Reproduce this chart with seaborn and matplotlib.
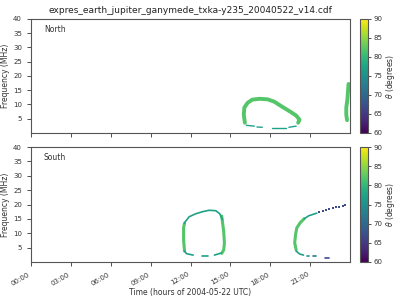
import numpy as np
import pandas as pd
import matplotlib
matplotlib.use("Agg")
import matplotlib.pyplot as plt
import seaborn as sns
from matplotlib.colors import Normalize
from matplotlib.cm import ScalarMappable

# ---------------- data ----------------
title = "expres_earth_jupiter_ganymede_txka-y235_20040522_v14.cdf"
tick_hours = [0, 3, 6, 9, 12, 15, 18, 21]
tick_labels = ["00:00", "03:00", "06:00", "09:00", "12:00", "15:00", "18:00", "21:00"]
cbar_ticks = [60, 65, 70, 75, 80, 85, 90]

# North hemisphere: thick bands (time h, freq MHz, theta deg, segment id)
north_thick_t = [16.09, 16.01, 16.05, 16.3, 16.65, 17.2, 17.8, 18.3, 18.9, 19.5, 19.95, 20.2, 20.1,
                 23.89, 23.8, 23.72, 23.72, 23.78]
north_thick_f = [3.6, 6.4, 8.9, 10.6, 11.7, 12.0, 11.8, 11.0, 9.2, 7.5, 6.1, 4.7, 3.6,
                 17.2, 11.6, 8.9, 6.4, 4.5]
north_thick_theta = [82] * 13 + [82] * 5
north_thick_seg = ["n1"] * 13 + ["n2"] * 5

# North thin dashes
north_thin_t = [16.2, 16.8, 17.0, 17.4, 18.1, 19.2, 19.4, 19.95]
north_thin_f = [2.7, 2.4, 2.1, 2.0, 1.8, 1.8, 2.0, 2.4]
north_thin_theta = [77] * 8
north_thin_seg = ["a", "a", "b", "b", "c", "c", "d", "d"]

# South hemisphere: thick bands
south_thick_t = [11.55, 11.48, 11.48, 11.55,
                 14.35, 14.5, 14.55, 14.5, 14.35,
                 19.95, 19.84, 19.9, 20.0, 20.25, 20.55]
south_thick_f = [3.8, 7.7, 11.9, 13.5,
                 16.0, 10.5, 6.65, 4.2, 3.0,
                 4.2, 6.65, 9.45, 11.9, 13.65, 15.05]
south_thick_theta = [82] * 4 + [82] * 5 + [82] * 6
south_thick_seg = ["s1"] * 4 + ["s2"] * 5 + ["s3"] * 6

# South thin lines / dashes
south_thin_t = [11.55, 11.6, 11.9, 12.4, 12.9, 13.4, 13.9, 14.2, 14.4,
                11.55, 11.7, 12.2,
                12.9, 13.3,
                13.8, 14.3,
                20.55, 20.9, 21.5,
                19.95, 20.2, 20.5,
                20.75, 20.9,
                21.25, 21.45,
                22.1, 22.4]
south_thin_f = [13.5, 14.0, 15.75, 16.8, 17.5, 18.0, 17.85, 16.8, 14.7,
                3.8, 2.9, 2.4,
                2.1, 2.1,
                2.4, 3.1,
                15.05, 16.1, 17.0,
                3.8, 2.8, 2.4,
                2.2, 2.2,
                2.0, 2.0,
                1.4, 1.4]
south_thin_theta = ([77] * 9 + [77] * 3 + [77] * 2 + [77] * 2 + [77] * 3 + [77] * 3
                    + [76] * 2 + [72] * 2 + [67] * 2)
south_thin_seg = (["t1"] * 9 + ["t2"] * 3 + ["t3"] * 2 + ["t4"] * 2 + ["t5"] * 3 + ["t6"] * 3
                  + ["t7"] * 2 + ["t8"] * 2 + ["t9"] * 2)

# South dotted line (individual points)
south_dot_t = [21.7, 21.95, 22.2, 22.45, 22.7, 22.95, 23.2, 23.45, 23.65]
south_dot_f = [17.3, 17.7, 18.0, 18.3, 18.7, 19.0, 19.3, 19.6, 19.9]
south_dot_theta = [67] * 9

# ---------------- plotting ----------------
sns.set_style("white")
plt.rcParams["font.family"] = ["DejaVu Sans"]

fig = plt.figure(figsize=(4, 3), dpi=100)
ax_n = fig.add_axes([0.0775, 0.5567, 0.7975, 0.38])
ax_s = fig.add_axes([0.0775, 0.1267, 0.7975, 0.383])
cax_n = fig.add_axes([0.9, 0.5567, 0.02, 0.38])
cax_s = fig.add_axes([0.9, 0.1267, 0.02, 0.383])

norm = (60, 90)
kw = dict(x="t", y="f", hue="theta", units="seg", estimator=None, sort=False,
          palette="viridis", hue_norm=norm, legend=False)

def df_of(t, f, th, seg=None):
    d = {"t": t, "f": f, "theta": th}
    if seg is not None:
        d["seg"] = seg
    return pd.DataFrame(d)

sns.lineplot(data=df_of(north_thick_t, north_thick_f, north_thick_theta, north_thick_seg),
             ax=ax_n, linewidth=2.8, **kw)
sns.lineplot(data=df_of(north_thin_t, north_thin_f, north_thin_theta, north_thin_seg),
             ax=ax_n, linewidth=1.0, **kw)

sns.lineplot(data=df_of(south_thick_t, south_thick_f, south_thick_theta, south_thick_seg),
             ax=ax_s, linewidth=2.2, **kw)
sns.lineplot(data=df_of(south_thin_t, south_thin_f, south_thin_theta, south_thin_seg),
             ax=ax_s, linewidth=1.2, **kw)
sns.scatterplot(data=df_of(south_dot_t, south_dot_f, south_dot_theta),
                x="t", y="f", hue="theta", palette="viridis", hue_norm=norm,
                marker="s", s=2, linewidth=0, legend=False, ax=ax_s)

for ax, name in [(ax_n, "North"), (ax_s, "South")]:
    ax.set_xlim(0, 24)
    ax.set_ylim(0, 40)
    ax.set_yticks([5, 10, 15, 20, 25, 30, 35, 40])
    ax.set_xticks(tick_hours)
    ax.tick_params(axis="both", labelsize=5, length=3, width=0.6, direction="out",
                   bottom=True, left=True, colors="#333333", labelcolor="#333333")
    ax.set_ylabel("Frequency (MHz)", fontsize=5.5, color="#333333", labelpad=2)
    ax.text(0.04, 0.91, name, transform=ax.transAxes, fontsize=5.5, color="#333333",
            va="center", ha="left")
    for sp in ax.spines.values():
        sp.set_color("#555555")
        sp.set_linewidth(0.8)

ax_n.set_xticklabels([])
ax_n.set_xlabel("")
ax_s.set_xticklabels(tick_labels, rotation=30, ha="right")
ax_s.set_xlabel("Time (hours of 2004-05-22 UTC)", fontsize=5.5, color="#333333", labelpad=1)
ax_n.set_title(title, fontsize=6.5, pad=4, color="#222222")

sm = ScalarMappable(norm=Normalize(*norm), cmap="viridis")
for cax in (cax_n, cax_s):
    cb = fig.colorbar(sm, cax=cax, ticks=cbar_ticks)
    cb.ax.tick_params(labelsize=5, length=2.5, width=0.6, pad=1.5, colors="#333333")
    cb.set_label(r"$\theta$ (degrees)", fontsize=5.5, color="#333333", labelpad=1)
    cb.outline.set_edgecolor("#555555")
    cb.outline.set_linewidth(0.8)

fig.savefig("out.png", dpi=100)
